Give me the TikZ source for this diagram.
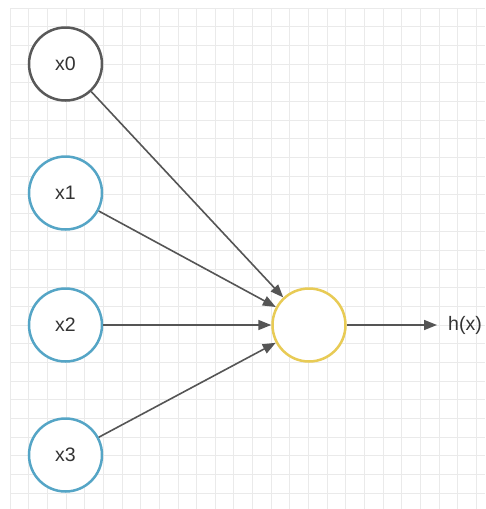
\documentclass[tikz,border=0pt]{standalone}
\usepackage{fontspec}
\setmainfont{Liberation Sans}
\usetikzlibrary{arrows.meta}
\definecolor{gridline}{HTML}{EAEAEA}
\definecolor{edgegray}{HTML}{555555}
\definecolor{biasgray}{HTML}{595959}
\definecolor{inblue}{HTML}{55A5C6}
\definecolor{unityellow}{HTML}{E8CB55}
\definecolor{labelgray}{HTML}{333333}
\tikzset{
  unit/.style={circle, draw, line width=2.5pt, fill=white, minimum size=73pt,
    inner sep=0pt, text=labelgray, font=\fontsize{19.5}{22}\selectfont},
  bias/.style={unit, draw=biasgray},
  inputunit/.style={unit, draw=inblue},
  sumunit/.style={unit, draw=unityellow},
  link/.style={draw=edgegray, line width=1.6pt,
    -{Triangle[length=13pt,width=10pt]}},
}
\begin{document}
\begin{tikzpicture}[x=1pt,y=-1pt]
  % page frame
  \useasboundingbox (0,0) rectangle (485,509);
  \fill[white] (0,0) rectangle (485,509);
  % background grid
  \foreach \k in {0,...,25}
    \draw[gridline, line width=0.7pt] ({10+18.65*\k},8) -- ({10+18.65*\k},509);
  \foreach \k in {0,...,26}
    \draw[gridline, line width=0.7pt] (10,{8+18.65*\k}) -- (485,{8+18.65*\k});
  % units
  \node[bias] (x0) at (65.5,64) {x0};
  \node[inputunit] (x1) at (65.5,193) {x1};
  \node[inputunit] (x2) at (65.5,325) {x2};
  \node[inputunit] (x3) at (65.5,455) {x3};
  \node[sumunit] (s) at (309,325) {};
  \node[anchor=west, inner sep=0pt, text=labelgray,
        font=\fontsize{19.5}{22}\selectfont] (hx) at (448,325) {h(x)};
  % weighted connections
  \draw[link] (x0) -- (s);
  \draw[link] (x1) -- (s);
  \draw[link] (x2) -- (s);
  \draw[link] (x3) -- (s);
  \draw[link, shorten >=11pt] (s) -- (hx.west);
\end{tikzpicture}
\end{document}
